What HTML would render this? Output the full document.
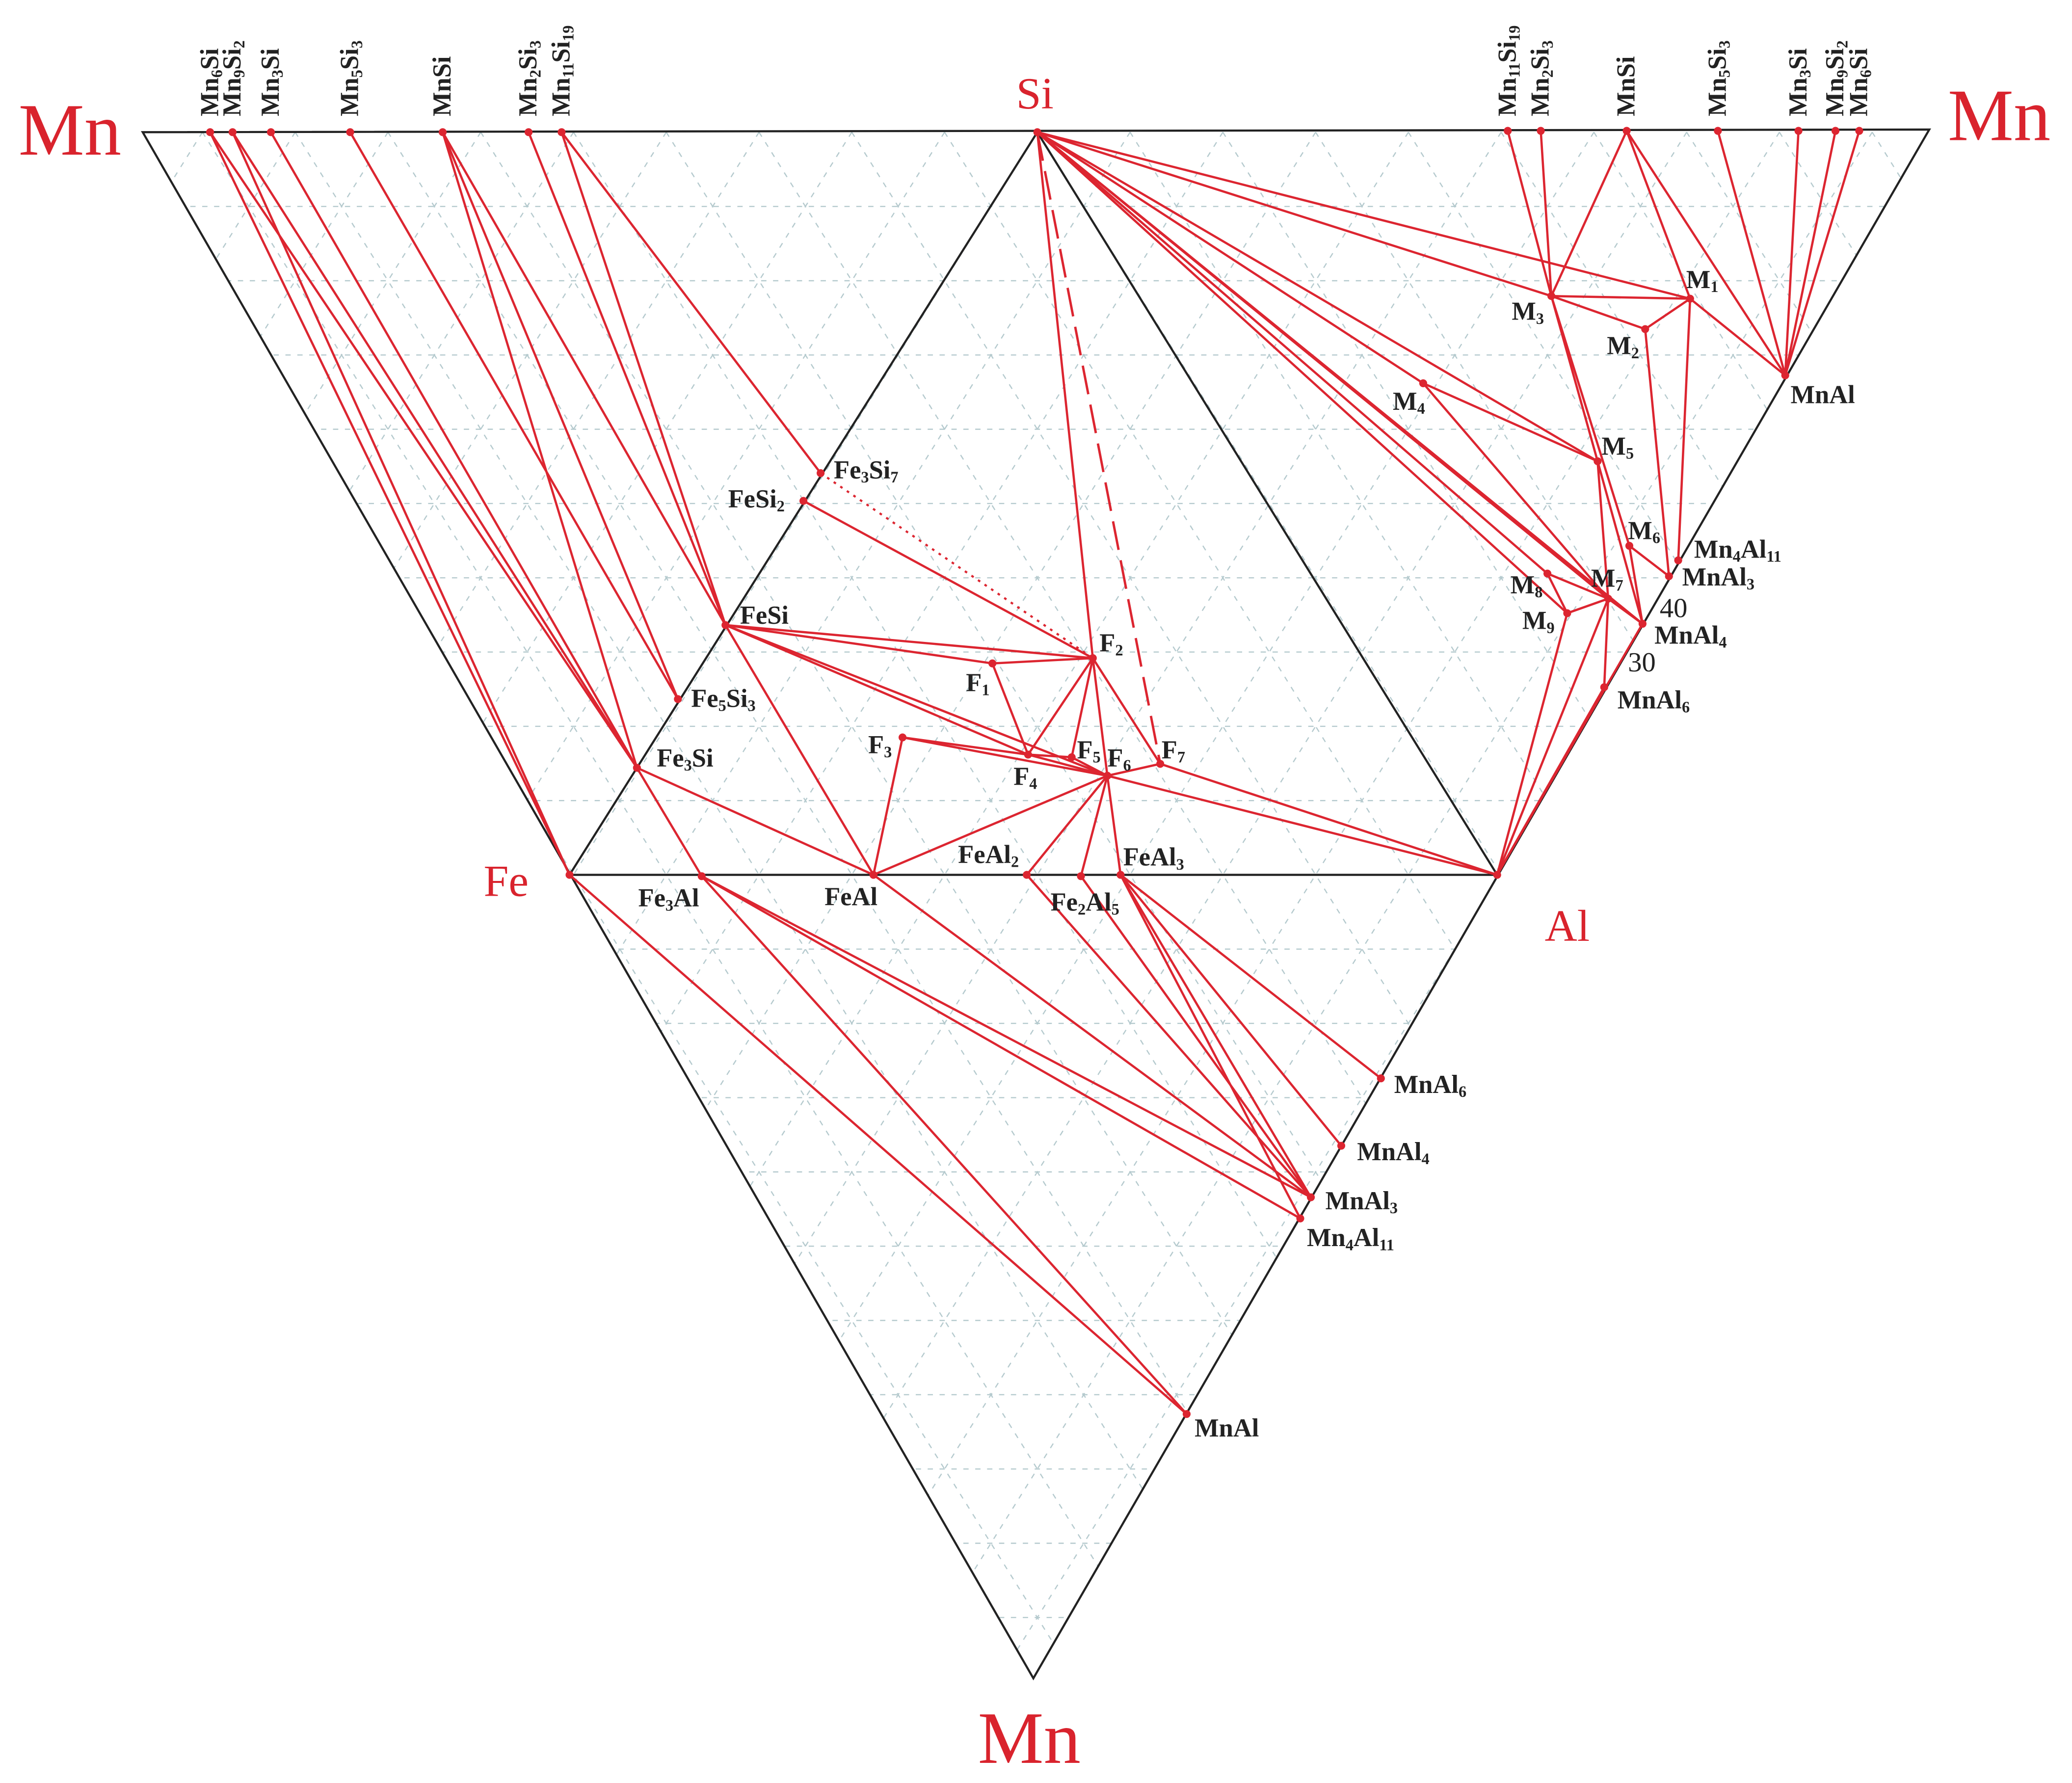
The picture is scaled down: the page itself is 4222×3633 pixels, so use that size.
<!DOCTYPE html>
<html><head><meta charset="utf-8">
<style>html,body{margin:0;padding:0;background:#fff;}svg{display:block}
text{font-family:"Liberation Serif",serif;}
.l{font-weight:bold;font-size:19.5px;fill:#222}
.s{font-size:12px}
.big{fill:#d9232d;font-size:56px}
.mid{fill:#d9232d;font-size:34px}
</style></head><body>
<svg id="sv" width="4222" height="3633" viewBox="0 0 1568 1349.2" xmlns="http://www.w3.org/2000/svg">
<defs><clipPath id="cp"><polygon points="108,100 1460,98 782,1270"/></clipPath></defs>
<g id="grid" clip-path="url(#cp)" stroke="#b5cace" stroke-width="0.9" stroke-dasharray="4,5" fill="none"></g>
<g stroke="#222" stroke-width="1.6" fill="none">
<polygon points="108,100 1460,98 782,1270"/>
<polygon points="785,100 431,662 1133,662"/>
</g>
<g id="red" stroke="#dc2530" stroke-width="1.7" fill="none"></g>
<g id="dots" fill="#dc2530"></g>
<path d="M621,358 L827,498" stroke="#dc2530" stroke-width="1.6" stroke-dasharray="2,4" fill="none"/>
<path d="M785,100 L878,578" stroke="#dc2530" stroke-width="1.8" stroke-dasharray="22,8" fill="none"/>

<text class="big" x="14" y="117">Mn</text>
<text class="big" x="1474" y="106">Mn</text>
<text class="big" x="740" y="1334">Mn</text>
<text class="mid" x="769" y="82">Si</text>
<text class="mid" x="366" y="678">Fe</text>
<text class="mid" x="1169" y="712">Al</text>

<g class="l">
<text transform="translate(165,88) rotate(-90)">Mn<tspan class="s" dy="3">6</tspan><tspan dy="-3">Si</tspan></text>
<text transform="translate(182,88) rotate(-90)">Mn<tspan class="s" dy="3">9</tspan><tspan dy="-3">Si</tspan><tspan class="s" dy="3">2</tspan></text>
<text transform="translate(211,88) rotate(-90)">Mn<tspan class="s" dy="3">3</tspan><tspan dy="-3">Si</tspan></text>
<text transform="translate(271,88) rotate(-90)">Mn<tspan class="s" dy="3">5</tspan><tspan dy="-3">Si</tspan><tspan class="s" dy="3">3</tspan></text>
<text transform="translate(341,88) rotate(-90)">MnSi</text>
<text transform="translate(406,88) rotate(-90)">Mn<tspan class="s" dy="3">2</tspan><tspan dy="-3">Si</tspan><tspan class="s" dy="3">3</tspan></text>
<text transform="translate(431,88) rotate(-90)">Mn<tspan class="s" dy="3">11</tspan><tspan dy="-3">Si</tspan><tspan class="s" dy="3">19</tspan></text>
<text transform="translate(1147,88) rotate(-90)">Mn<tspan class="s" dy="3">11</tspan><tspan dy="-3">Si</tspan><tspan class="s" dy="3">19</tspan></text>
<text transform="translate(1172,88) rotate(-90)">Mn<tspan class="s" dy="3">2</tspan><tspan dy="-3">Si</tspan><tspan class="s" dy="3">3</tspan></text>
<text transform="translate(1237,88) rotate(-90)">MnSi</text>
<text transform="translate(1306,88) rotate(-90)">Mn<tspan class="s" dy="3">5</tspan><tspan dy="-3">Si</tspan><tspan class="s" dy="3">3</tspan></text>
<text transform="translate(1367,88) rotate(-90)">Mn<tspan class="s" dy="3">3</tspan><tspan dy="-3">Si</tspan></text>
<text transform="translate(1395,88) rotate(-90)">Mn<tspan class="s" dy="3">9</tspan><tspan dy="-3">Si</tspan><tspan class="s" dy="3">2</tspan></text>
<text transform="translate(1413,88) rotate(-90)">Mn<tspan class="s" dy="3">6</tspan><tspan dy="-3">Si</tspan></text>

<text x="631" y="362">Fe<tspan class="s" dy="3">3</tspan><tspan dy="-3">Si</tspan><tspan class="s" dy="3">7</tspan></text>
<text x="551" y="384">FeSi<tspan class="s" dy="3">2</tspan></text>
<text x="560" y="472">FeSi</text>
<text x="523" y="535">Fe<tspan class="s" dy="3">5</tspan><tspan dy="-3">Si</tspan><tspan class="s" dy="3">3</tspan></text>
<text x="497" y="580">Fe<tspan class="s" dy="3">3</tspan><tspan dy="-3">Si</tspan></text>
<text x="483" y="686">Fe<tspan class="s" dy="3">3</tspan><tspan dy="-3">Al</tspan></text>
<text x="624" y="685">FeAl</text>
<text x="725" y="653">FeAl<tspan class="s" dy="3">2</tspan></text>
<text x="795" y="689">Fe<tspan class="s" dy="3">2</tspan><tspan dy="-3">Al</tspan><tspan class="s" dy="3">5</tspan></text>
<text x="850" y="655">FeAl<tspan class="s" dy="3">3</tspan></text>
<text x="731" y="523">F<tspan class="s" dy="3">1</tspan></text>
<text x="832" y="493">F<tspan class="s" dy="3">2</tspan></text>
<text x="657" y="570">F<tspan class="s" dy="3">3</tspan></text>
<text x="767" y="594">F<tspan class="s" dy="3">4</tspan></text>
<text x="815" y="574">F<tspan class="s" dy="3">5</tspan></text>
<text x="838" y="580">F<tspan class="s" dy="3">6</tspan></text>
<text x="879" y="574">F<tspan class="s" dy="3">7</tspan></text>
<text x="1276" y="218">M<tspan class="s" dy="3">1</tspan></text>
<text x="1216" y="268">M<tspan class="s" dy="3">2</tspan></text>
<text x="1144" y="242">M<tspan class="s" dy="3">3</tspan></text>
<text x="1054" y="310">M<tspan class="s" dy="3">4</tspan></text>
<text x="1212" y="344">M<tspan class="s" dy="3">5</tspan></text>
<text x="1232" y="408">M<tspan class="s" dy="3">6</tspan></text>
<text x="1204" y="444">M<tspan class="s" dy="3">7</tspan></text>
<text x="1143" y="449">M<tspan class="s" dy="3">8</tspan></text>
<text x="1152" y="476">M<tspan class="s" dy="3">9</tspan></text>
<text x="1355" y="305">MnAl</text>
<text x="1282" y="422">Mn<tspan class="s" dy="3">4</tspan><tspan dy="-3">Al</tspan><tspan class="s" dy="3">11</tspan></text>
<text x="1273" y="443">MnAl<tspan class="s" dy="3">3</tspan></text>
<text x="1252" y="487">MnAl<tspan class="s" dy="3">4</tspan></text>
<text x="1224" y="536">MnAl<tspan class="s" dy="3">6</tspan></text>
<text x="1055" y="827">MnAl<tspan class="s" dy="3">6</tspan></text>
<text x="1027" y="878">MnAl<tspan class="s" dy="3">4</tspan></text>
<text x="1003" y="915">MnAl<tspan class="s" dy="3">3</tspan></text>
<text x="989" y="943">Mn<tspan class="s" dy="3">4</tspan><tspan dy="-3">Al</tspan><tspan class="s" dy="3">11</tspan></text>
<text x="904" y="1087">MnAl</text>
</g>
<text x="1256" y="467" style="font-size:21px;fill:#222">40</text>
<text x="1232" y="508" style="font-size:21px;fill:#222">30</text>
</svg>
<script>
var NS="http://www.w3.org/2000/svg";
function ln(g,x1,y1,x2,y2){var e=document.createElementNS(NS,"line");e.setAttribute("x1",x1);e.setAttribute("y1",y1);e.setAttribute("x2",x2);e.setAttribute("y2",y2);document.getElementById(g).appendChild(e);}
var h=56.2,w=70.2,k=h/(w/2);
for(var i=1;i<21;i++){ln("grid",0,100+i*h,1568,100+i*h);}
for(var i=-30;i<30;i++){var x0=785+i*w;ln("grid",x0,100,x0-1300/k,1400);ln("grid",x0,100,x0+1300/k,1400);}
var P={Si:[785,100],Fe:[431,662],Al:[1133,662],
a1:[159,100],a2:[176,100],a3:[205,100],a4:[265,100],a5:[335,100],a6:[400,100],a7:[425,100],
b1:[1141,99],b2:[1166,99],b3:[1231,99],b4:[1300,99],b5:[1361,99],b6:[1389,99],b7:[1407,99],
Fe3Si7:[621,358],FeSi2:[608,379],FeSi:[549,473],Fe5Si3:[513,529],Fe3Si:[482,581],
Fe3Al:[531,663],FeAl:[661,662],FeAl2:[777,662],Fe2Al5:[818,663],FeAl3:[848,662],
F1:[751,502],F2:[827,498],F3:[683,558],F4:[778,571],F5:[811,573],F6:[838,587],F7:[878,578],
M1:[1279,226],M2:[1245,249],M3:[1174,224],M4:[1077,290],M5:[1209,349],M6:[1233,413],M7:[1217,453],M8:[1171,434],M9:[1186,464],
rMnAl:[1351,284],rMn4Al11:[1270,424],rMnAl3:[1263,436],rMnAl4:[1243,472],rMnAl6:[1214,520],
lMnAl6:[1045,816],lMnAl4:[1015,867],lMnAl3:[992,906],lMn4Al11:[984,922],lMnAl:[898,1070]};
var L=["a1 Fe","a2 Fe","a1 Fe3Si","a2 Fe3Si","a3 Fe3Si","a4 Fe5Si3","a5 Fe3Si","a5 Fe5Si3","a5 FeSi","a6 FeSi","a7 FeSi","a7 Fe3Si7",
"Fe3Si Fe3Al","Fe3Si FeAl","FeSi FeAl","FeSi F2","FeSi F1","FeSi F4","FeSi F6","FeSi2 F2","Si F2",
"F1 F2","F1 F4","F2 F4","F2 F5","F2 F6","F2 F7","F3 F4","F3 F6","F3 FeAl","F4 F5","F4 F6","F5 F6","F6 F7","F6 Al","F7 Al",
"F6 FeAl","F6 FeAl2","F6 Fe2Al5","F6 FeAl3",
"Si M3","Si M4","Si M5","Si M7","Si M8","Si M9","Si rMnAl4","Si M1",
"b1 M3","b2 M3","b3 M3","b3 M1","b3 rMnAl","b4 rMnAl","b5 rMnAl","b6 rMnAl","b7 rMnAl",
"M3 M1","M3 M2","M2 M1","M1 rMnAl","M1 rMn4Al11","M2 rMnAl3","M3 M5","M3 M6","M4 M5","M4 M7","M5 M7","M5 rMnAl4","M6 rMnAl3","M6 rMnAl4","M7 rMnAl4","M8 M7","M8 M9","M9 M7","M7 rMnAl6","M9 Al","M7 Al","rMnAl4 Al","rMnAl6 Al",
"Fe lMnAl","Fe3Al lMnAl3","Fe3Al lMn4Al11","Fe3Al lMnAl","FeAl lMnAl3","FeAl2 lMnAl3","Fe2Al5 lMnAl3","FeAl3 lMnAl3","FeAl3 lMn4Al11","FeAl3 lMnAl4","FeAl3 lMnAl6"];
L.forEach(function(s){var t=s.split(" "),a=P[t[0]],b=P[t[1]];ln("red",a[0],a[1],b[0],b[1]);});
for(var n in P){var c=document.createElementNS(NS,"circle");c.setAttribute("cx",P[n][0]);c.setAttribute("cy",P[n][1]);c.setAttribute("r",3);document.getElementById("dots").appendChild(c);}
</script>
</body></html>
